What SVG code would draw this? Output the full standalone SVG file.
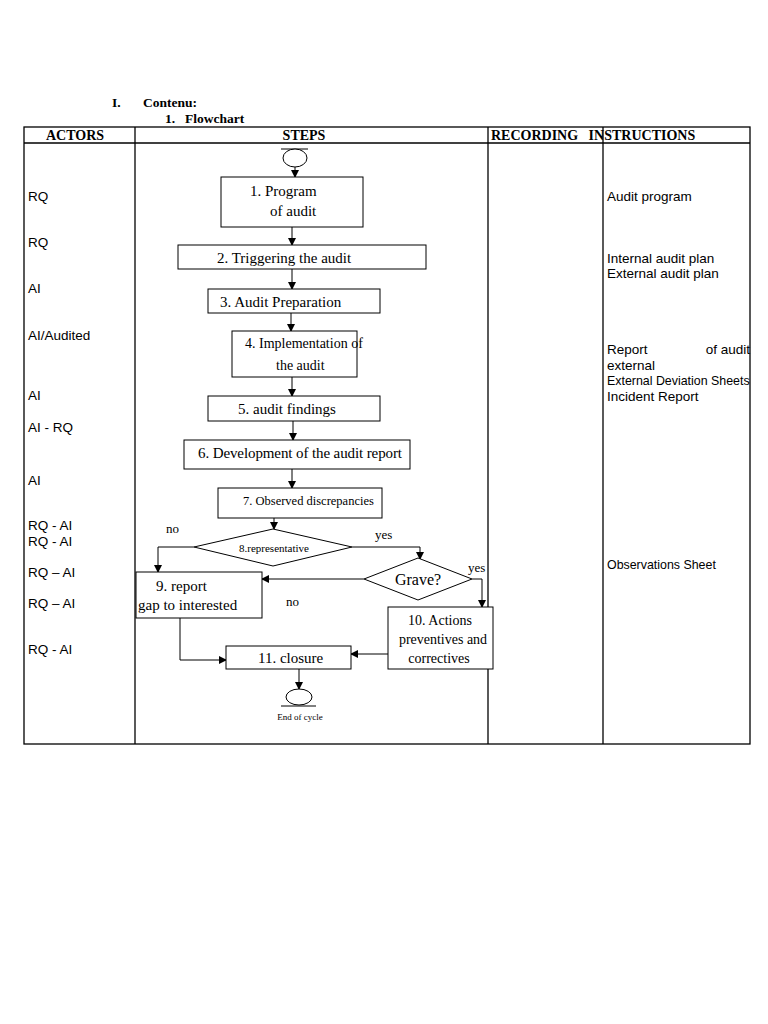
<svg xmlns="http://www.w3.org/2000/svg" width="768" height="1024" viewBox="0 0 768 1024">
<defs>
<marker id="ah" markerWidth="8" markerHeight="8" refX="7" refY="4" orient="auto" markerUnits="userSpaceOnUse">
<path d="M0,0 L8,4 L0,8 Z" fill="#000"/>
</marker>
<style>
.s{font-family:"Liberation Serif","Times New Roman",serif;font-size:15px;fill:#000}
.s14{font-family:"Liberation Serif","Times New Roman",serif;font-size:14px;fill:#000}
.b{font-family:"Liberation Serif","Times New Roman",serif;font-size:13.5px;font-weight:bold;fill:#000}
.hb{font-family:"Liberation Serif","Times New Roman",serif;font-size:14px;font-weight:bold;fill:#000}
.a{font-family:"Liberation Sans",Arial,sans-serif;font-size:13.5px;fill:#000}
.a2{font-family:"Liberation Sans",Arial,sans-serif;font-size:12.4px;fill:#000}
.sm{font-family:"Liberation Serif","Times New Roman",serif;font-size:12.5px;fill:#000}
.lb{font-family:"Liberation Serif","Times New Roman",serif;font-size:13px;fill:#000}
.xs{font-family:"Liberation Serif","Times New Roman",serif;font-size:11px;fill:#000}
.xe{font-family:"Liberation Serif","Times New Roman",serif;font-size:9px;fill:#000}
.g{font-family:"Liberation Serif","Times New Roman",serif;font-size:16px;fill:#000}
.box{fill:#fff;stroke:#000;stroke-width:1}
.tl{fill:none;stroke:#000;stroke-width:1.3}
.ln{fill:none;stroke:#000;stroke-width:1}
.ar{fill:none;stroke:#000;stroke-width:1;marker-end:url(#ah)}
</style>
</defs>
<rect width="768" height="1024" fill="#fff"/>
<g id="title">
<text class="b" x="112" y="107">I.</text>
<text class="b" x="143" y="107">Contenu:</text>
<text class="b" x="165" y="123">1.</text>
<text class="b" x="185" y="123">Flowchart</text>
</g>
<g id="table">
<rect class="tl" x="24" y="127" width="726" height="617"/>
<line class="tl" x1="24" y1="143" x2="750" y2="143"/>
<line class="tl" x1="135" y1="127" x2="135" y2="744"/>
<line class="tl" x1="488" y1="127" x2="488" y2="744"/>
<line class="tl" x1="603" y1="127" x2="603" y2="744"/>
<text class="hb" x="75" y="140" text-anchor="middle">ACTORS</text>
<text class="hb" x="304" y="140" text-anchor="middle">STEPS</text>
<text class="hb" x="491" y="140" xml:space="preserve">RECORDING   INSTRUCTIONS</text>
</g>
<g id="actors">
<text class="a" x="28" y="201">RQ</text>
<text class="a" x="28" y="247">RQ</text>
<text class="a" x="28" y="293">AI</text>
<text class="a" x="28" y="340">AI/Audited</text>
<text class="a" x="28" y="400">AI</text>
<text class="a" x="28" y="432">AI - RQ</text>
<text class="a" x="28" y="485">AI</text>
<text class="a" x="28" y="530">RQ - AI</text>
<text class="a" x="28" y="546">RQ - AI</text>
<text class="a" x="28" y="577">RQ – AI</text>
<text class="a" x="28" y="608">RQ – AI</text>
<text class="a" x="28" y="654">RQ - AI</text>
</g>
<g id="instructions">
<text class="a" x="607" y="201">Audit program</text>
<text class="a" x="607" y="263">Internal audit plan</text>
<text class="a" x="607" y="278">External audit plan</text>
<text class="a" x="607" y="354">Report</text>
<text class="a" x="750" y="354" text-anchor="end">of audit</text>
<text class="a" x="607" y="370">external</text>
<text class="a2" x="607" y="385">External Deviation Sheets</text>
<text class="a" x="607" y="401">Incident Report</text>
<text class="a2" x="607" y="569">Observations Sheet</text>
</g>
<g id="connectors">
<line class="ar" x1="295" y1="167" x2="295" y2="177"/>
<line class="ar" x1="292" y1="227" x2="292" y2="245"/>
<line class="ar" x1="292" y1="269" x2="292" y2="289"/>
<line class="ar" x1="291" y1="313" x2="291" y2="331"/>
<line class="ar" x1="292" y1="377" x2="292" y2="396"/>
<line class="ar" x1="293" y1="421" x2="293" y2="440"/>
<line class="ar" x1="292" y1="469" x2="292" y2="488"/>
<line class="ar" x1="274" y1="518" x2="274" y2="529"/>
<polyline class="ar" points="194,547 158,547 158,572"/>
<polyline class="ar" points="352,547 420,547 420,559"/>
<line class="ar" x1="364" y1="579" x2="262" y2="579"/>
<polyline class="ar" points="472,579 482,579 482,607"/>
<polyline class="ar" points="180,618 180,660 226,660"/>
<line class="ar" x1="388" y1="654" x2="351" y2="654"/>
<line class="ar" x1="299" y1="669" x2="299" y2="689"/>
<text class="lb" x="166" y="533">no</text>
<text class="lb" x="375" y="539">yes</text>
<text class="lb" x="468" y="572">yes</text>
<text class="lb" x="286" y="606">no</text>
</g>
<g id="start">
<line class="ln" x1="281" y1="149" x2="308" y2="149"/>
<ellipse class="box" cx="295" cy="158" rx="12" ry="9"/>
</g>
<g id="n1">
<rect class="box" x="221" y="177" width="142" height="50"/>
<text class="s" x="250" y="196">1. Program</text>
<text class="s" x="270" y="216">of audit</text>
</g>
<g id="n2">
<rect class="box" x="178" y="245" width="248" height="24"/>
<text class="s" x="217" y="263">2. Triggering the audit</text>
</g>
<g id="n3">
<rect class="box" x="208" y="289" width="172" height="24"/>
<text class="s" x="220" y="307">3. Audit Preparation</text>
</g>
<g id="n4">
<rect class="box" x="232" y="331" width="125" height="46"/>
<text class="s14" x="245" y="348">4. Implementation of</text>
<text class="s14" x="276" y="370">the audit</text>
</g>
<g id="n5">
<rect class="box" x="208" y="396" width="172" height="25"/>
<text class="s" x="238" y="414">5. audit findings</text>
</g>
<g id="n6">
<rect class="box" x="184" y="440" width="226" height="29"/>
<text class="s" x="198" y="458" textLength="204">6. Development of the audit report</text>
</g>
<g id="n7">
<rect class="box" x="218" y="488" width="164" height="30"/>
<text class="sm" x="243" y="505">7. Observed discrepancies</text>
</g>
<g id="n8">
<polygon class="box" points="194,547 273,529 352,547 273,566"/>
<text class="xs" x="274" y="552" text-anchor="middle">8.representative</text>
</g>
<g id="n8b">
<polygon class="box" points="364,579 418,558 472,579 418,600"/>
<text class="g" x="418" y="585" text-anchor="middle">Grave?</text>
</g>
<g id="n9">
<rect class="box" x="136" y="572" width="126" height="46"/>
<text class="s" x="156" y="591">9. report</text>
<text class="s" x="138" y="610">gap to interested</text>
</g>
<g id="n10">
<rect class="box" x="388" y="607" width="105" height="62"/>
<text class="s14" x="440" y="625" text-anchor="middle">10. Actions</text>
<text class="s14" x="443" y="644" text-anchor="middle">preventives and</text>
<text class="s14" x="439" y="663" text-anchor="middle">correctives</text>
</g>
<g id="n11">
<rect class="box" x="226" y="646" width="125" height="23"/>
<text class="s" x="258" y="663">11. closure</text>
</g>
<g id="end">
<ellipse class="box" cx="299" cy="697" rx="13" ry="8"/>
<line class="ln" x1="281" y1="706" x2="316" y2="706"/>
<text class="xe" x="300" y="720" text-anchor="middle">End of cycle</text>
</g>
</svg>
